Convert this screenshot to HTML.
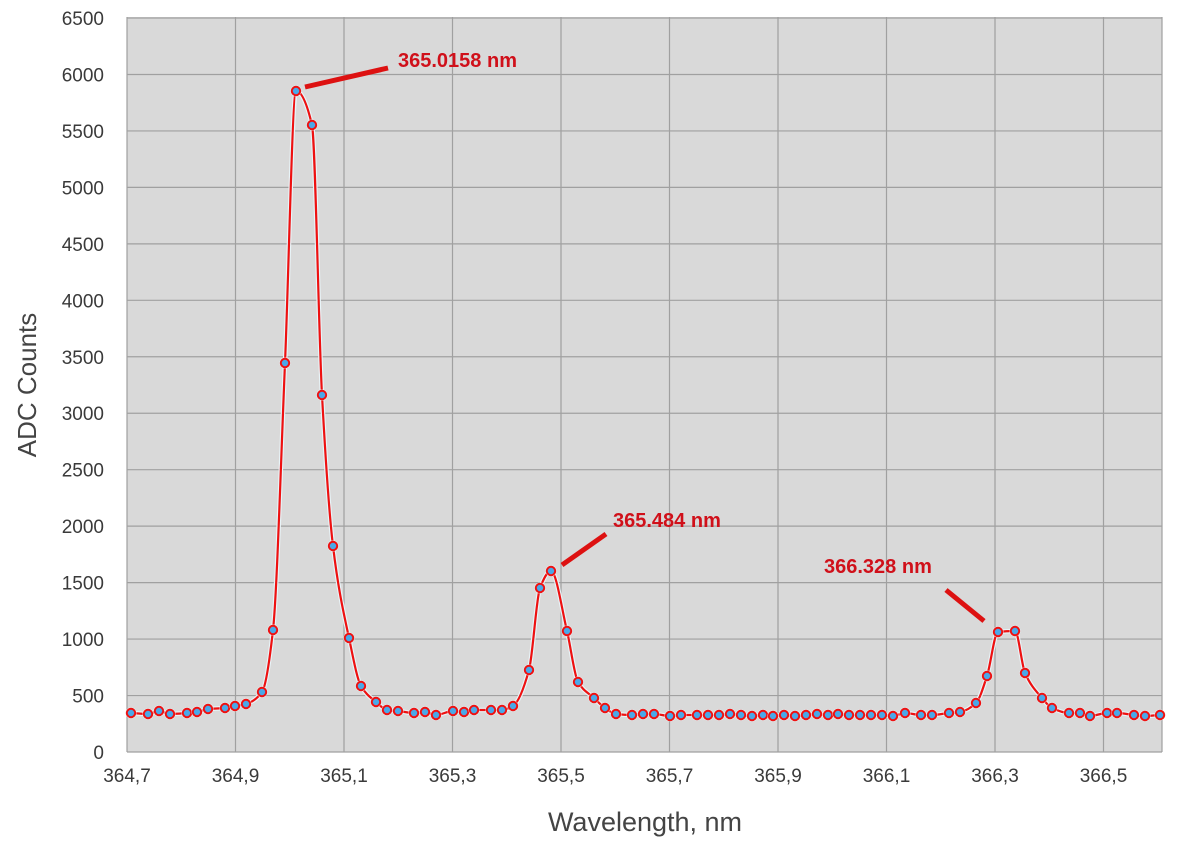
<!DOCTYPE html>
<html><head><meta charset="utf-8"><style>
html,body{margin:0;padding:0;background:#fff;}
svg{display:block;font-family:"Liberation Sans",sans-serif;}
</style></head><body>
<svg id="s" width="1200" height="853" viewBox="0 0 1200 853">
<rect x="127" y="17" width="1035" height="735" fill="#d9d9d9"/>
<g id="grid" stroke="#a0a0a0" stroke-width="1.2"></g>
<g id="labels" fill="#3a3a3a" font-size="19"></g>
<text x="36" y="385" font-size="26" fill="#444" text-anchor="middle" transform="rotate(-90 36 385)">ADC Counts</text>
<text x="645" y="831" font-size="27" fill="#444" text-anchor="middle">Wavelength, nm</text>
<path id="curve" fill="none" stroke="#e8f4f8" stroke-width="4.5"/>
<path id="curve2" fill="none" stroke="#ee1111" stroke-width="2.2"/>
<g id="pts"></g>
<g stroke="#dd1111" stroke-width="5" stroke-linecap="butt">
<line x1="305" y1="87" x2="388" y2="68"/>
<line x1="562" y1="565" x2="606" y2="534"/>
<line x1="946" y1="590" x2="984" y2="621"/>
</g>
<g fill="#d0101a" font-weight="bold" font-size="20">
<text x="398" y="67">365.0158 nm</text>
<text x="613" y="527">365.484 nm</text>
<text x="824" y="573">366.328 nm</text>
</g>
</svg>
<script>
var NS="http://www.w3.org/2000/svg";
function el(t,a,p){var e=document.createElementNS(NS,t);for(var k in a)e.setAttribute(k,a[k]);p.appendChild(e);return e;}
var g=document.getElementById('grid'),L=document.getElementById('labels');
for(var i=0;i<=13;i++){var y=752-i*56.46;el('line',{x1:127,x2:1162,y1:y,y2:y},g);
var t=el('text',{x:104,y:y+7,'text-anchor':'end'},L);t.textContent=(i*500);}
var xl=["364,7","364,9","365,1","365,3","365,5","365,7","365,9","366,1","366,3","366,5"];
for(var i=0;i<10;i++){var x=127+i*108.5;el('line',{x1:x,x2:x,y1:17,y2:752},g);
var t=el('text',{x:x,y:782,'text-anchor':'middle'},L);t.textContent=xl[i];}
el('line',{x1:1162,x2:1162,y1:17,y2:752},g);
var P=[[131,713],[148,714],[159,711],[170,714],[187,713],[197,712],[208,709],[225,708],[235,706],[246,704],[262,692],[273,630],[285,363],[296,91],[312,125],[322,395],[333,546],[349,638],[361,686],[376,702],[387,710],[398,711],[414,713],[425,712],[436,715],[453,711],[464,712],[474,710],[491,710],[502,710],[513,706],[529,670],[540,588],[551,571],[567,631],[578,682],[594,698],[605,708],[616,714],[632,715],[643,714],[654,714],[670,716],[681,715],[697,715],[708,715],[719,715],[730,714],[741,715],[752,716],[763,715],[773,716],[784,715],[795,716],[806,715],[817,714],[828,715],[838,714],[849,715],[860,715],[871,715],[882,715],[893,716],[905,713],[921,715],[932,715],[949,713],[960,712],[976,703],[987,676],[998,632],[1015,631],[1025,673],[1042,698],[1052,708],[1069,713],[1080,713],[1090,716],[1107,713],[1117,713],[1134,715],[1145,716],[1160,715]];
// monotone cubic (Fritsch-Carlson) with slight softening
var n=P.length,dl=[],m=[];
for(var i=0;i<n-1;i++)dl[i]=(P[i+1][1]-P[i][1])/(P[i+1][0]-P[i][0]);
m[0]=dl[0];m[n-1]=dl[n-2];
for(var i=1;i<n-1;i++){if(dl[i-1]*dl[i]<=0)m[i]=0;else{var w1=2*(P[i+1][0]-P[i][0])+(P[i][0]-P[i-1][0]),w2=(P[i+1][0]-P[i][0])+2*(P[i][0]-P[i-1][0]);m[i]=(w1+w2)/(w1/dl[i-1]+w2/dl[i]);}}
var d="M"+P[0][0]+","+P[0][1];
for(var i=0;i<n-1;i++){var h=P[i+1][0]-P[i][0];
d+=" C"+(P[i][0]+h/3)+","+(P[i][1]+m[i]*h/3)+" "+(P[i+1][0]-h/3)+","+(P[i+1][1]-m[i+1]*h/3)+" "+P[i+1][0]+","+P[i+1][1];}
document.getElementById('curve').setAttribute('d',d);
document.getElementById('curve2').setAttribute('d',d);
var pg=document.getElementById('pts');
P.forEach(function(p){el('circle',{cx:p[0],cy:p[1],r:5.5,fill:'#e8f4f8'},pg);el('circle',{cx:p[0],cy:p[1],r:4.2,fill:'#4aa8e8',stroke:'#ee1111','stroke-width':2},pg);});
</script>
</body></html>
